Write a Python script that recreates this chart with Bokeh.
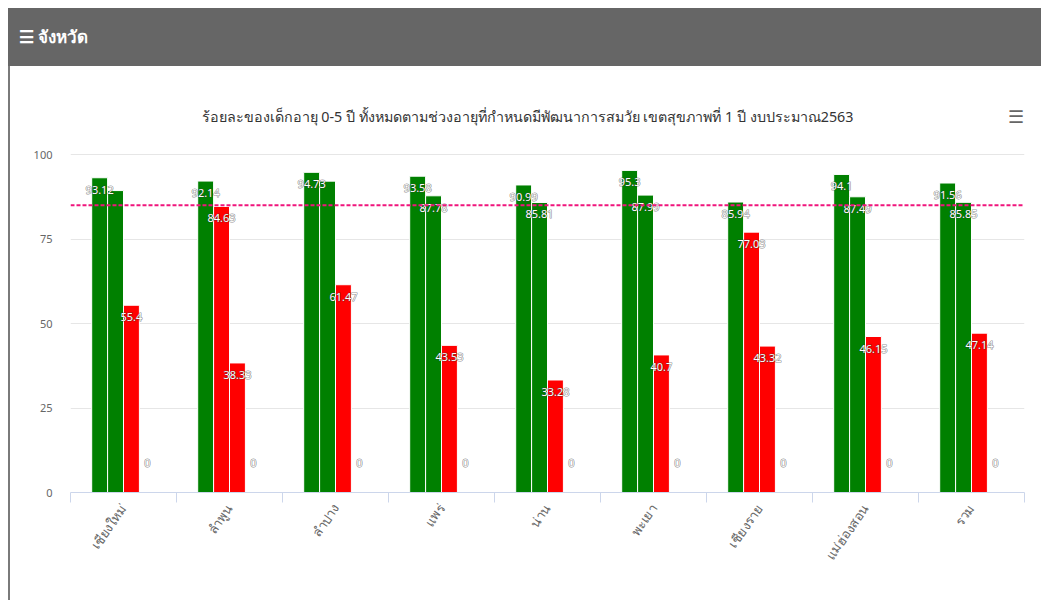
import numpy as np
from bokeh.plotting import figure
from bokeh.models import ColumnDataSource, Span, FixedTicker, Label, Div, Range1d
from bokeh.layouts import column, row
from bokeh.embed import file_html
from bokeh.resources import INLINE
from bokeh.core.properties import value

# ---------------- data ----------------
provinces = ["เชียงใหม่", "ลำพูน", "ลำปาง", "แพร่", "น่าน", "พะเยา", "เชียงราย", "แม่ฮ่องสอน", "รวม"]
series_1 = [93.12, 92.14, 94.73, 93.58, 90.99, 95.3, 85.94, 94.1, 91.56]
series_2 = [89.33, 84.63, 92.12, 87.78, 85.81, 87.99, 77.03, 87.49, 85.85]
series_3 = [55.4, 38.33, 61.47, 43.53, 33.28, 40.7, 43.32, 46.15, 47.14]
series_4 = [0, 0, 0, 0, 0, 0, 0, 0, 0]
target = 85
y_ticks = [0, 25, 50, 75, 100]
title_text = "ร้อยละของเด็กอายุ 0-5 ปี ทั้งหมดตามช่วงอายุที่กำหนดมีพัฒนาการสมวัย เขตสุขภาพที่ 1 ปี งบประมาณ2563"
header_text = "จังหวัด"

# ---------------- style ----------------
GREEN = "#008000"
RED = "#ff0000"
FONT = "'Liberation Sans Narrow', 'Noto Sans', sans-serif"
FIG_W, FIG_H = 1031, 534
BORDER_L, BORDER_R, BORDER_B = 60, 17, 108
FRAME_W = FIG_W - BORDER_L - BORDER_R          # 954
FRAME_H = FIG_H - BORDER_B                     # 426 (title area inside frame)
PLOT_H = 338.0                                 # pixels spanned by 0..100
PX_PER_UNIT = PLOT_H / 100.0
Y_TOP = FRAME_H / PX_PER_UNIT
LABEL_H = 15.0

all_series = [series_1, series_2, series_3, series_4]
n_series = len(all_series)
group_width = 0.6
bar_w = group_width / n_series

bx, btop, bcol = [], [], []
lx, ly, ltxt, loff = [], [], [], []
for si, ser in enumerate(all_series):
    for i, v in enumerate(ser):
        x = i + 0.5 + (si - (n_series - 1) / 2) * bar_w
        bx.append(x)
        btop.append(v)
        bcol.append(GREEN if v >= target else RED)
        pos = v * PX_PER_UNIT - 12 if v > 0 else 30
        hide = False
        if si > 0:
            pv = all_series[si - 1][i]
            ppos = pv * PX_PER_UNIT - 12 if pv > 0 else 30
            if abs(ppos - pos) < LABEL_H:
                hide = True
        if not hide:
            lx.append(x)
            ly.append(v)
            ltxt.append(f"{v:g}")
            loff.append(12 if v > 0 else -30)

bars = ColumnDataSource(dict(x=bx, top=btop, color=bcol))
labels = ColumnDataSource(dict(x=lx, y=ly, text=ltxt, yoff=loff))

p = figure(width=FIG_W, height=FIG_H, x_range=Range1d(0, len(provinces)),
           y_range=Range1d(0, Y_TOP), output_backend="svg", toolbar_location=None,
           min_border_left=BORDER_L, min_border_right=BORDER_R, min_border_top=0,
           min_border_bottom=BORDER_B)
p.outline_line_color = None
p.background_fill_color = "white"
p.border_fill_color = "white"
p.title.visible = False

p.xgrid.visible = False
p.ygrid.grid_line_color = "#e6e6e6"
p.ygrid.grid_line_width = 1

p.yaxis.ticker = FixedTicker(ticks=y_ticks)
p.yaxis.axis_line_color = None
p.yaxis.major_tick_line_color = None
p.yaxis.minor_tick_line_color = None
p.yaxis.major_label_text_color = "#666666"
p.yaxis.major_label_text_font_size = "11px"
p.yaxis.major_label_text_font = FONT
p.yaxis.major_label_standoff = 12

centers = [i + 0.5 for i in range(len(provinces))]
p.xaxis.ticker = FixedTicker(ticks=centers, minor_ticks=list(range(len(provinces) + 1)))
p.xaxis.major_label_overrides = {c: name for c, name in zip(centers, provinces)}
p.xaxis.axis_line_color = "#ccd6eb"
p.xaxis.major_tick_line_color = None
p.xaxis.major_tick_out = 0
p.xaxis.minor_tick_line_color = "#ccd6eb"
p.xaxis.minor_tick_out = 10
p.xaxis.minor_tick_in = 0
p.xaxis.major_label_orientation = 0.96
p.xaxis.major_label_text_color = "#666666"
p.xaxis.major_label_text_font_size = "13px"
p.xaxis.major_label_text_font = FONT
p.xaxis.major_label_standoff = 3

p.vbar(x="x", top="top", width=bar_w, bottom=0, source=bars,
       fill_color="color", line_color="white", line_width=1)

p.add_layout(Span(location=target, dimension="width", line_color="#f0147c",
                  line_dash="4 2", line_width=2))

# data labels: dark halo layer then white text
p.text(x="x", y="y", text="text", source=labels, text_color="#333333",
       text_alpha=0.55, text_font=value(FONT), text_font_size="11px",
       text_align="center", text_baseline="middle", y_offset="yoff",
       text_outline_color="#333333")
p.text(x="x", y="y", text="text", source=labels, text_color="white",
       text_font=value(FONT), text_font_size="11px", text_align="center",
       text_baseline="middle", y_offset="yoff")

# chart title (centred on the whole chart box, not on the bars' area)
TITLE_Y = PLOT_H + 38
p.add_layout(Label(x=457, y=TITLE_Y, x_units="screen", y_units="screen",
                   text=title_text, text_color="#333333", text_font=FONT,
                   text_font_size="14.3px", text_align="center",
                   text_baseline="middle"))

# context-menu icon
p.add_layout(Label(x=945, y=TITLE_Y, x_units="screen", y_units="screen",
                   text="☰", text_color="#666666", text_font_size="18px",
                   text_align="center", text_baseline="middle"))

header = Div(text=('<div style="height:58px;line-height:58px;padding-left:11px;'
                   'background:#666666;color:#ffffff;font-size:17px;font-weight:bold;'
                   "font-family:'Liberation Sans Narrow','Noto Sans',sans-serif;"
                   'box-sizing:border-box;width:1033px;">☰ ' + header_text + '</div>'),
             width=1033, height=58, margin=0, styles={"background-color": "#666666"})
border = Div(text="", width=2, height=FIG_H, margin=0,
             styles={"background-color": "#7a7a7a"})

layout = column(header, row(border, p, spacing=0), spacing=0, margin=(8, 0, 0, 8))

with open("out.html", "w") as f:
    f.write(file_html(layout, INLINE))
